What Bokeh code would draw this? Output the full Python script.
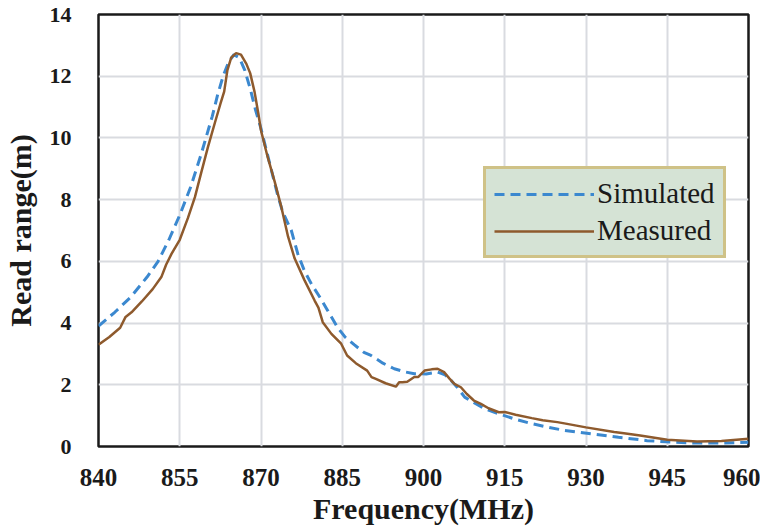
from bokeh.plotting import figure
from bokeh.models import Range1d, FixedTicker, Legend, LegendItem
from bokeh.embed import file_html
from bokeh.resources import INLINE

x_ticks = [840, 855, 870, 885, 900, 915, 930, 945, 960]
y_ticks = [0, 2, 4, 6, 8, 10, 12, 14]

sim_f = [840, 843, 846, 849, 851, 853, 855, 857, 859, 861, 862, 863, 864, 865, 866, 867, 868,
         869, 870, 871, 872, 873, 874, 875.6, 876.8, 878, 879.3, 881, 882.3, 884.1, 885.5,
         887.2, 889, 890.3, 892.5, 894.6, 896.5, 898.3, 900.5, 902.6, 904, 905.1, 906.3,
         907.6, 909.5, 911.3, 913.9, 917, 920, 922.9, 926, 930.9, 936, 941.3, 946, 950.5,
         955, 960]
sim_r = [3.9, 4.35, 4.85, 5.5, 6.0, 6.7, 7.5, 8.4, 9.5, 10.7, 11.4, 12.0, 12.45, 12.7, 12.6,
         12.2, 11.6, 10.9, 10.3, 9.6, 8.9, 8.2, 7.6, 7.0, 6.24, 5.7, 5.27, 4.8, 4.41, 3.87,
         3.55, 3.3, 3.05, 2.95, 2.7, 2.52, 2.42, 2.36, 2.35, 2.41, 2.32, 2.14, 1.9, 1.6, 1.4,
         1.22, 1.06, 0.88, 0.74, 0.63, 0.52, 0.41, 0.3, 0.19, 0.14, 0.11, 0.11, 0.14]

meas_f = [840, 842, 844, 845, 846.1, 848, 850, 851.6, 852.5, 853.5, 855, 856.5, 857.8, 859,
          860.2, 861.5, 862.5, 863.2, 863.8, 864.5, 865.4, 866.3, 867.3, 868, 868.8, 869.5,
          870, 871.2, 872.5, 873.7, 875, 876.2, 878, 879.9, 880.6, 881.4, 883, 884.8, 885.9,
          887.5, 889.6, 890.4, 891.2, 893, 894.9, 895.5, 896.1, 897, 898.3, 899, 900.2,
          901.5, 902.6, 903.8, 904.8, 905.7, 906.9, 908, 909.3, 910.6, 912, 913.9, 915, 917,
          920, 922, 924.7, 926, 930, 935.2, 937, 940, 945, 950.5, 955, 960]
meas_r = [3.3, 3.55, 3.85, 4.2, 4.35, 4.7, 5.1, 5.49, 5.9, 6.25, 6.7, 7.4, 8.08, 8.9, 9.7,
          10.5, 11.1, 11.5, 12.2, 12.6, 12.75, 12.7, 12.4, 12.1, 11.5, 10.8, 10.24, 9.4, 8.6,
          7.8, 6.8, 6.1, 5.4, 4.73, 4.5, 4.03, 3.65, 3.33, 2.95, 2.7, 2.46, 2.25, 2.19, 2.05,
          1.94, 2.08, 2.08, 2.1, 2.25, 2.25, 2.46, 2.5, 2.52, 2.41, 2.2, 2.03, 1.92, 1.7, 1.49,
          1.38, 1.24, 1.11, 1.12, 1.03, 0.92, 0.85, 0.79, 0.75, 0.62, 0.47, 0.43, 0.36, 0.22,
          0.16, 0.18, 0.25]

SERIF = "Liberation Serif"

p = figure(width=760, height=530, output_backend="svg", toolbar_location=None,
           x_range=Range1d(840, 960), y_range=Range1d(0, 14),
           min_border_left=97, min_border_right=12, min_border_top=14, min_border_bottom=84)

p.outline_line_color = "#1a1a1a"
p.outline_line_width = 2.5
p.background_fill_color = "white"
p.border_fill_color = "white"

p.xaxis.ticker = FixedTicker(ticks=x_ticks)
p.yaxis.ticker = FixedTicker(ticks=y_ticks)
for ax in (p.xaxis, p.yaxis):
    ax.axis_line_color = None
    ax.major_tick_line_color = None
    ax.minor_tick_line_color = None
    ax.major_label_text_font = SERIF
    ax.major_label_text_font_style = "bold"
    ax.major_label_text_color = "#1a1a1a"
    ax.axis_label_text_font = SERIF
    ax.axis_label_text_font_style = "bold"
    ax.axis_label_text_font_size = "30px"
    ax.axis_label_text_color = "#1a1a1a"
p.xaxis.major_label_text_font_size = "25px"
p.yaxis.major_label_text_font_size = "22px"
p.xaxis.axis_label = "Frequency(MHz)"
p.yaxis.axis_label = "Read range(m)"
p.xaxis.major_label_standoff = 16
p.yaxis.major_label_standoff = 21
p.xaxis.axis_label_standoff = 3
p.yaxis.axis_label_standoff = 10

p.xgrid.grid_line_color = "#d9dbe0"
p.ygrid.grid_line_color = "#d9dbe0"
p.xgrid.grid_line_width = 2
p.ygrid.grid_line_width = 2

r_sim = p.line(sim_f, sim_r, line_color="#3b88cf", line_width=3, line_dash="10 6")
r_meas = p.line(meas_f, meas_r, line_color="#8e5a2d", line_width=2.5)

legend = Legend(items=[LegendItem(label="Simulated", renderers=[r_sim]),
                       LegendItem(label="Measured", renderers=[r_meas])],
                location=(385, 188))
legend.background_fill_color = "#d5e3d5"
legend.background_fill_alpha = 1
legend.border_line_color = "#c9a23a"
legend.border_line_width = 3
legend.label_text_font = SERIF
legend.label_text_font_size = "29px"
legend.label_text_color = "#1a1a1a"
legend.glyph_width = 100
legend.glyph_height = 28
legend.label_height = 28
legend.label_standoff = 3
legend.spacing = 4
legend.padding = 8
legend.margin = 0
p.add_layout(legend, "center")

open("out.html", "w").write(file_html(p, INLINE))
